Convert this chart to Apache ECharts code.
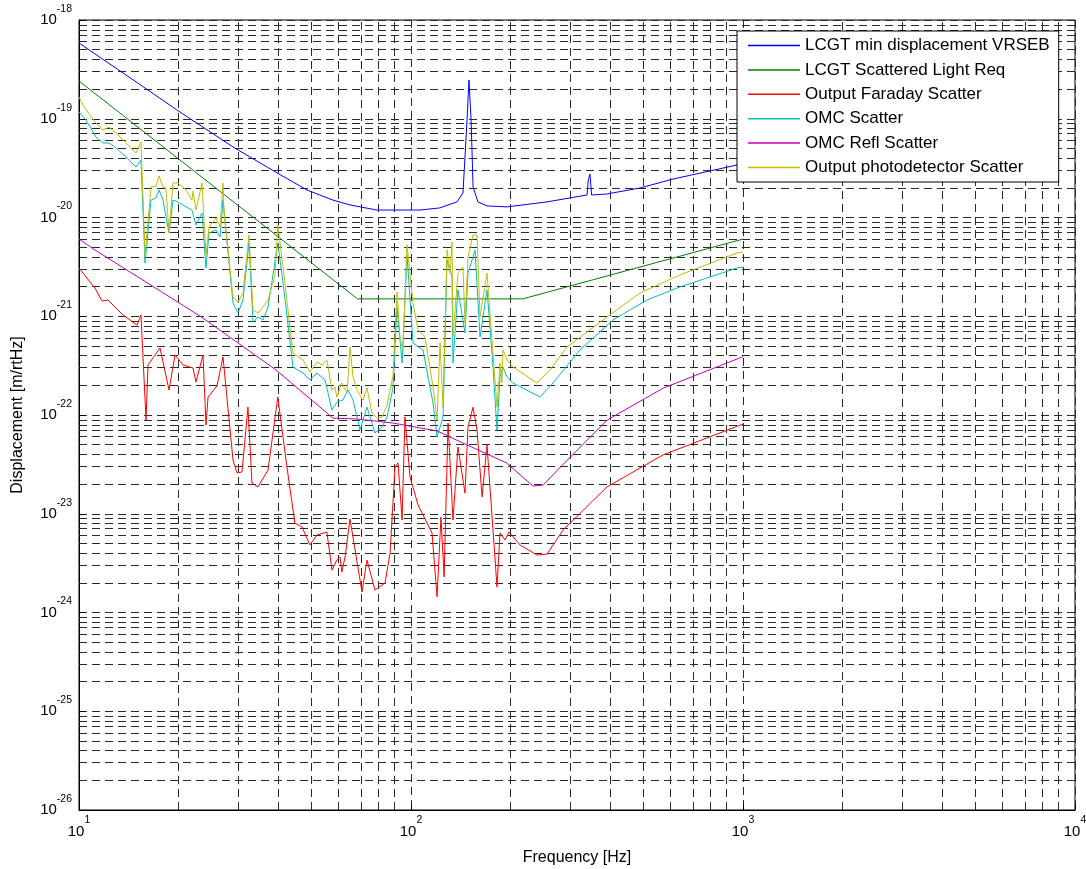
<!DOCTYPE html>
<html>
<head>
<meta charset="utf-8">
<script src="https://cdn.jsdelivr.net/npm/echarts@6/dist/echarts.min.js"></script>
<style>
html, body { margin: 0; padding: 0; background: #fff; }
#main { width: 1086px; height: 869px; }
</style>
</head>
<body>
<div id="main"></div>
<script>
// series names / colours (matlab default line colours)
var seriesNames = ['LCGT min displacement VRSEB', 'LCGT Scattered Light Req', 'Output Faraday Scatter',
    'OMC Scatter', 'OMC Refl Scatter', 'Output photodetector Scatter'];
var seriesColors = ['#0000ff', '#008000', '#ff0000', '#00bfbf', '#bf00bf', '#bfbf00'];

// [frequency Hz, displacement m/rtHz]
var vrseb = [[10,5.85e-19],[15.8,2.05e-19],[19.7,1.23e-19],[29.1,5.18e-20],[39.5,2.83e-20],[48.6,1.9e-20],
    [58.2,1.5e-20],[65.5,1.34e-20],[79,1.19e-20],[100,1.19e-20],[106.4,1.19e-20],[122,1.25e-20],[137.6,1.44e-20],
    [143.4,1.77e-20],[147.5,9.7e-20],[149.5,2.47e-19],[151.7,9.7e-20],[153.8,2.04e-20],[159.1,1.44e-20],
    [169.5,1.31e-20],[194.6,1.28e-20],[257,1.44e-20],[339,1.69e-20],[342,2.4e-20],[346,2.75e-20],[350,1.69e-20],
    [389,1.73e-20],[489.6,1.99e-20],[615,2.45e-20],[959,3.4e-20],[1000,3.5e-20]];

var scatterReq = [[10,2.41e-19],[69,1.5e-21],[217,1.5e-21],[1000,6.05e-21]];

var faraday = [[10,3.08e-21],[11.17,1.93e-21],[11.73,1.43e-21],[12.23,1.46e-21],[13.57,1.03e-21],[14.95,8.15e-22],
    [15.37,1.03e-21],[15.92,8.9e-23],[16.14,3.21e-22],[17.54,4.77e-22],[18.67,1.79e-22],[19.46,4.05e-22],
    [20.58,3.21e-22],[22.05,2.99e-22],[22.51,2.16e-22],[23.63,4.05e-22],[24.13,7.92e-23],[24.47,1.52e-22],
    [26.04,1.97e-22],[27.15,3.87e-22],[29.1,3.5e-23],[29.92,2.59e-23],[30.97,2.65e-23],[32.28,1.2e-22],
    [33.19,2.05e-23],[34.6,1.87e-23],[37.1,2.77e-23],[39.7,1.52e-22],[42.3,2.97e-23],[44.7,8.05e-24],
    [46.96,7.35e-24],[49.6,4.83e-24],[52.1,6.1e-24],[55.8,6.53e-24],[57.8,2.69e-24],[59.8,3.4e-24],
    [61.1,3.65e-24],[61.9,2.57e-24],[63.3,3.65e-24],[65.5,8.85e-24],[71.2,1.61e-24],[73.7,3.4e-24],
    [77.9,1.69e-24],[83.5,1.99e-24],[86.5,4.0e-24],[89.5,2.97e-23],[91.4,3.27e-23],[94,8.65e-24],
    [95.9,9.55e-23],[99.3,2.36e-23],[105,1.23e-23],[115.7,6.38e-24],[119.8,1.44e-24],[123.1,9.27e-24],
    [125.8,2.29e-24],[129.3,8.3e-23],[133.8,8.65e-24],[138.5,4.74e-23],[145.4,1.62e-23],[148.5,7.56e-23],
    [153.7,1.2e-22],[158.1,7.05e-23],[163.7,1.48e-23],[169.4,4.97e-23],[181.6,1.81e-24],[185.4,6.38e-24],
    [191.9,5.42e-24],[197.3,6.53e-24],[213,4.83e-24],[239.6,3.82e-24],[256.8,3.9e-24],[287,6.84e-24],
    [389.4,1.87e-23],[574,3.94e-23],[1000,8.1e-23]];

var omc = [[10,1.17e-19],[10.5,9.7e-20],[11.25,6.53e-20],[11.81,5.68e-20],[12.31,5.68e-20],[12.92,5.06e-20],
    [13.85,4.1e-20],[14.85,3.24e-20],[15.37,3.82e-20],[15.81,3.46e-21],[16.48,1.5e-20],[17.06,1.58e-20],
    [17.42,1.9e-20],[17.91,1.5e-20],[18.67,6.97e-21],[19.19,1.5e-20],[19.87,1.44e-20],[21.01,1.28e-20],
    [21.89,1.19e-20],[22.51,8.4e-21],[23.47,1.11e-20],[24.13,3.08e-21],[24.64,6.97e-21],[25.86,7.47e-21],
    [26.59,6.35e-21],[27.15,1.5e-20],[29.1,1.36e-21],[30.13,1.08e-21],[31.19,1.46e-21],[32.51,5.52e-21],
    [33.43,8.7e-22],[34.6,9.83e-22],[35.83,9.17e-22],[37.1,1.24e-21],[39.7,5.52e-21],[41.17,2.17e-21],
    [44.11,3.06e-22],[47.29,2.66e-22],[49.6,2.26e-22],[52.1,2.66e-22],[55.1,2.26e-22],[57.8,1.12e-22],
    [59.8,1.35e-22],[62.4,1.42e-22],[64.6,1.79e-22],[66.89,1.42e-22],[70.2,7.05e-23],[73.7,1.2e-22],
    [77.9,6.57e-23],[81.79,7.56e-23],[84.7,9.55e-23],[88.27,1.88e-22],[90.74,1.24e-21],[94,3.36e-22],
    [97.27,4.17e-21],[101.4,5.36e-22],[108.7,4.55e-22],[116.5,1.32e-22],[119.8,5.99e-23],[124.9,9.55e-23],
    [128.4,3.71e-21],[132.9,2.5e-21],[133.8,3.36e-22],[138.5,1.85e-21],[145.4,6.77e-22],[148.5,2.74e-21],
    [155.9,4.69e-21],[161.4,6.17e-22],[169.4,1.85e-21],[176.6,3.06e-22],[181.6,7.05e-23],[185.4,2.43e-22],
    [189.3,3.06e-22],[194.6,2.43e-22],[202.9,2.11e-22],[244.7,1.52e-22],[267.7,2.11e-22],[322.8,4.55e-22],
    [405.9,9.17e-22],[513.8,1.46e-21],[645.9,1.98e-21],[959.2,3.08e-21],[1000,3.15e-21]];

var omcRefl = [[10,6.05e-21],[11.17,4.69e-21],[19.6,1.43e-21],[23.6,9.6e-22],[39.2,2.86e-22],[58.2,9.3e-23],
    [68.8,9.1e-23],[88.1,8.3e-23],[106.4,7.4e-23],[119.8,6.9e-23],[143.4,5.2e-23],[194,3.27e-23],
    [233,1.91e-23],[250,1.95e-23],[282,2.97e-23],[390,8.9e-23],[575,1.87e-22],[1000,3.9e-22]];

var photodet = [[10,1.66e-19],[10.35,1.32e-19],[11.25,9.06e-20],[11.81,7.69e-20],[12.31,8.25e-20],[12.92,7.17e-20],
    [13.85,5.68e-20],[14.85,4.5e-20],[15.37,5.82e-20],[15.81,4.17e-21],[16.48,2.04e-20],[17.06,2.08e-20],
    [17.42,2.63e-20],[17.91,2.04e-20],[18.28,1.99e-20],[18.67,6.97e-21],[19.19,2.24e-20],[19.87,2.24e-20],
    [21.01,1.9e-20],[21.89,1.5e-20],[22.05,1.85e-20],[22.51,1.19e-20],[23.47,2.24e-20],[24.13,4.17e-21],
    [24.64,8.0e-21],[25.86,9.9e-21],[26.59,8.0e-21],[27.15,2.24e-20],[27.34,1.11e-20],[29.1,1.57e-21],
    [30.13,1.39e-21],[31.19,1.72e-21],[32.51,6.65e-21],[33.43,1.16e-21],[34.6,1.08e-21],[35.83,1.24e-21],
    [37.1,1.46e-21],[38.94,2.62e-21],[39.7,8.4e-21],[41.17,3.15e-21],[44.11,4.24e-22],[47.29,3.6e-22],
    [49.6,2.72e-22],[52.1,3.44e-22],[53.93,3.21e-22],[55.8,3.6e-22],[57.8,1.79e-22],[59.03,1.92e-22],
    [59.8,1.52e-22],[61.9,2.11e-22],[64.17,1.67e-22],[65.5,4.88e-22],[66.89,2.43e-22],[68.77,1.79e-22],
    [71.68,1.42e-22],[73.7,1.88e-22],[76.29,1.05e-22],[79,9.33e-23],[81.79,9.55e-23],[84.7,1.26e-22],
    [88.27,2.5e-22],[90.74,1.75e-21],[92.67,6e-22],[94.6,4.55e-22],[97.27,5.27e-21],[101.4,1.36e-21],
    [105,7.26e-22],[110.2,6.2e-22],[116.5,1.92e-22],[119.8,8.9e-23],[122.3,5.4e-22],[124.9,1.2e-22],
    [128.4,4.69e-21],[131.1,2.74e-21],[132.9,5.65e-21],[133.8,6.2e-22],[138.5,2.74e-21],[143.4,3.15e-21],
    [145.4,8.5e-22],[148.5,3.98e-21],[153.7,6.65e-21],[158.1,6.65e-21],[161.4,9.83e-22],[169.4,2.74e-21],
    [176.6,4.24e-22],[181.6,1.2e-22],[185.4,3.36e-22],[187.9,2.11e-22],[189.3,4.55e-22],[194.6,3.6e-22],
    [202.9,3.06e-22],[239.6,2.11e-22],[262.2,2.86e-22],[295.1,4.88e-22],[389.4,9.83e-22],[489.6,1.72e-21],
    [645.9,2.62e-21],[959.2,4.37e-21],[1000,4.47e-21]];

var allData = [vrseb, scatterReq, faraday, omc, omcRefl, photodet];

// axis decades (log10)
var xDecades = [1, 4];
var yDecades = [-26, -18];

var FONT = 'Liberation Sans';
var gridDash = [8, 5];
var gridColor = '#2a2a2a';

// log10 everything, draw on linear axes of exponents
function toLog(pts) {
    return pts.map(function (p) { return [Math.log10(p[0]), Math.log10(p[1])]; });
}

// minor grid (2..9 x 10^n)
var minorLines = [];
for (var d = xDecades[0]; d < xDecades[1]; d++) {
    for (var k = 2; k <= 9; k++) minorLines.push({ xAxis: Math.log10(k) + d });
}
for (var d2 = yDecades[0]; d2 < yDecades[1]; d2++) {
    for (var k2 = 2; k2 <= 9; k2++) minorLines.push({ yAxis: Math.log10(k2) + d2 });
}

var powRich = {
    b: { fontSize: 15, fontFamily: FONT, color: '#000', padding: [9, 0, 9, 0] },
    s: { fontSize: 10.5, fontFamily: FONT, color: '#000', verticalAlign: 'top' }
};
function powLabel(v) { return '{b|10}{s|' + v + '}'; }

var series = [{
    name: 'grid',
    type: 'line',
    data: [],
    silent: true,
    z: 1,
    markLine: {
        silent: true,
        z: 1,
        symbol: ['none', 'none'],
        label: { show: false },
        animation: false,
        lineStyle: { type: gridDash, color: gridColor, width: 1 },
        emphasis: { disabled: true },
        data: minorLines
    }
}];
var legendData = [];
for (var i = 0; i < allData.length; i++) {
    series.push({
        name: seriesNames[i],
        type: 'line',
        data: toLog(allData[i]),
        symbol: 'none',
        z: 3,
        lineStyle: { color: seriesColors[i], width: 1 },
        itemStyle: { color: seriesColors[i] }
    });
    legendData.push({ name: seriesNames[i], itemStyle: { color: seriesColors[i], borderWidth: 0 } });
}

var myChart = echarts.init(document.getElementById('main'));
var option = {
    animation: false,
    backgroundColor: '#fff',
    grid: {
        left: 79, right: 11, top: 20, bottom: 59,
        show: true, borderColor: '#000', borderWidth: 1,
        containLabel: false, outerBoundsMode: 'none'
    },
    legend: {
        data: legendData,
        orient: 'vertical',
        left: 737, top: 31,
        padding: [6, 9, 6, 11],
        itemGap: 7.4,
        icon: 'rect',
        itemWidth: 52, itemHeight: 1.5,
        backgroundColor: '#fff',
        borderColor: '#000', borderWidth: 1,
        textStyle: { fontSize: 17, fontFamily: FONT, color: '#000', lineHeight: 17 }
    },
    xAxis: {
        type: 'value',
        min: xDecades[0], max: xDecades[1], interval: 1,
        name: 'Frequency [Hz]',
        nameLocation: 'middle', nameGap: 40,
        nameTextStyle: { fontSize: 16, fontFamily: FONT, color: '#000' },
        axisLine: { lineStyle: { color: '#000' } },
        axisTick: { inside: true, length: 6, lineStyle: { color: '#000' } },
        axisLabel: {
            margin: 5, showMinLabel: true, showMaxLabel: true,
            formatter: powLabel,
            rich: powRich
        },
        splitLine: { show: true, lineStyle: { type: gridDash, color: gridColor, width: 1 } }
    },
    yAxis: {
        type: 'value',
        min: yDecades[0], max: yDecades[1], interval: 1,
        name: 'Displacement [m/rtHz]',
        nameLocation: 'middle', nameGap: 53,
        nameTextStyle: { fontSize: 16, fontFamily: FONT, color: '#000' },
        axisLine: { lineStyle: { color: '#000' } },
        axisTick: { inside: true, length: 6, lineStyle: { color: '#000' } },
        axisLabel: {
            margin: 7, showMinLabel: true, showMaxLabel: true,
            formatter: powLabel,
            rich: powRich
        },
        splitLine: { show: true, lineStyle: { type: gridDash, color: gridColor, width: 1 } }
    },
    series: series
};
myChart.setOption(option);
</script>
</body>
</html>
